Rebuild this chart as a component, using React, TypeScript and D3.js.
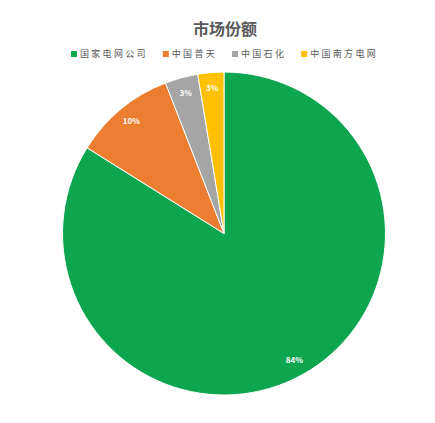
import React from 'react';
import * as d3 from 'd3';

// 市场份额数据
const companies = ['国家电网公司', '中国普天', '中国石化', '中国南方电网'];
const shares = [83.9, 10.2, 3.3, 2.6];
const colors = ['#0DA64F', '#ED7D31', '#A5A5A5', '#FFC000'];

const width = 435;
const height = 423;

const App: React.FC = () => {
  const cx = 224;
  const cy = 233.5;
  const radius = 161.5;

  const pie = d3.pie<number>().sort(null).value(d => d);
  const arcs = pie(shares);
  const arc = d3.arc<d3.PieArcDatum<number>>().innerRadius(0).outerRadius(radius);
  const labelArc = d3.arc<d3.PieArcDatum<number>>().innerRadius(radius * 0.9).outerRadius(radius * 0.9);
  const total = d3.sum(shares);

  // 图例布局
  const charW = 11.3;
  const sq = 6;
  const itemWidths = companies.map(c => sq + 4 + c.length * charW);
  const gap = 14;
  const legendTotal = d3.sum(itemWidths) + gap * (companies.length - 1);
  let lx = 225 - legendTotal / 2;
  const legendItems = companies.map((c, i) => {
    const x = lx;
    lx += itemWidths[i] + gap;
    return { name: c, x, color: colors[i] };
  });

  return (
    <svg
      width={width}
      height={height}
      style={{ position: 'fixed', left: 0, top: 0, background: '#fff' }}
      fontFamily="'Noto Sans CJK SC', 'Noto Sans', sans-serif"
    >
      <rect width={width} height={height} fill="#fff" />
      <text x={225} y={35} textAnchor="middle" fontSize={16} fontWeight="bold" fill="#595959">
        市场份额
      </text>
      <g>
        {legendItems.map(d => (
          <g key={d.name} transform={`translate(${d.x}, 54)`}>
            <rect x={0} y={-sq / 2} width={sq} height={sq} fill={d.color} />
            <text x={sq + 3} y={0} dy="0.35em" fontSize={9} letterSpacing={2.3} fill="#595959">
              {d.name}
            </text>
          </g>
        ))}
      </g>
      <g transform={`translate(${cx}, ${cy})`}>
        {arcs.map((a, i) => (
          <path key={i} d={arc(a) || ''} fill={colors[i]} stroke="#fff" strokeWidth={1} />
        ))}
        {arcs.map((a, i) => {
          const [x, y] = labelArc.centroid(a);
          return (
            <text
              key={'l' + i}
              x={x}
              y={y}
              dy="0.35em"
              textAnchor="middle"
              fontSize={8}
              fontWeight="bold"
              fill="#fff"
            >
              {Math.round((a.data / total) * 100)}%
            </text>
          );
        })}
      </g>
    </svg>
  );
};

export default App;
